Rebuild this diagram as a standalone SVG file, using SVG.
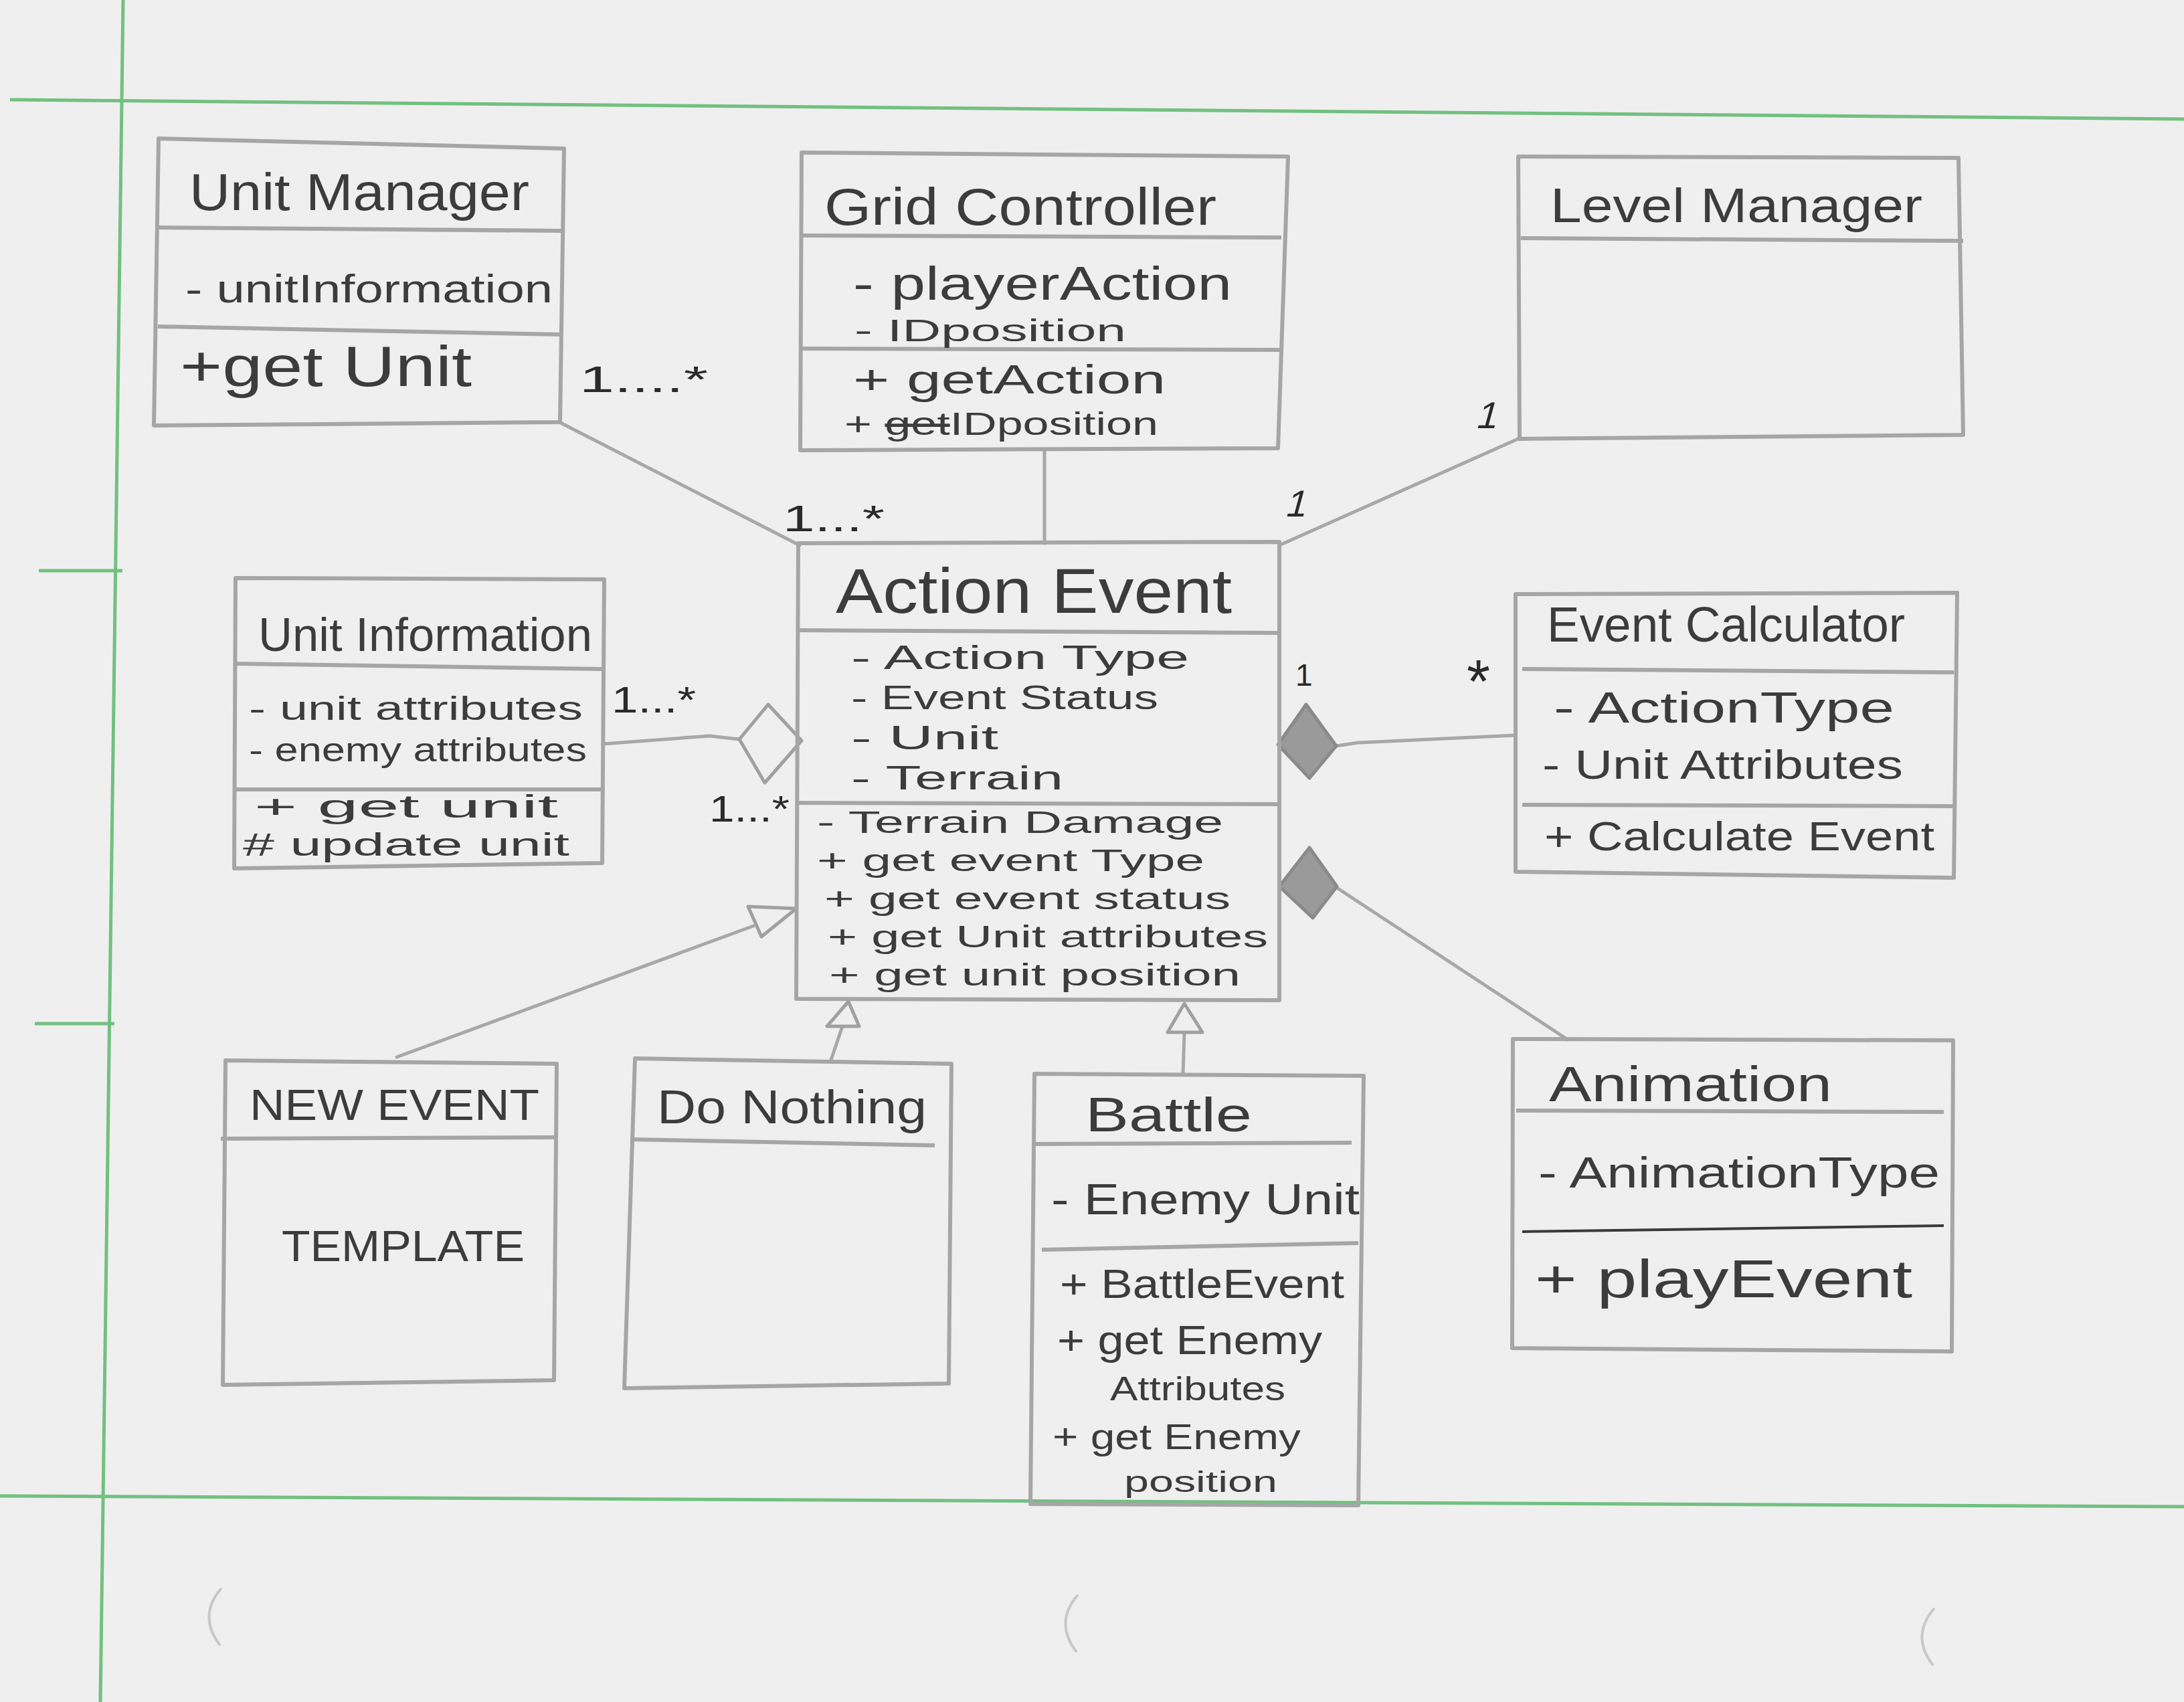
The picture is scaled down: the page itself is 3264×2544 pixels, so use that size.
<svg xmlns="http://www.w3.org/2000/svg" width="3264" height="2544" viewBox="0 0 3264 2544">
<defs>
<style>
.bg{fill:#efefef}
.grn{stroke:#72c080;stroke-width:5;fill:none}
.box{fill:none;stroke:#a6a6a6;stroke-width:6;stroke-linejoin:round}
.div{fill:none;stroke:#a6a6a6;stroke-width:6}
.dark{fill:none;stroke:#3a3a3a;stroke-width:4}
.con{fill:none;stroke:#a8a8a8;stroke-width:5;stroke-linecap:round;stroke-linejoin:round}
.hol{fill:#efefef;stroke:#a0a0a0;stroke-width:5;stroke-linejoin:round}
.fil{fill:#9a9a9a;stroke:#8a8a8a;stroke-width:5;stroke-linejoin:round}
.hole{fill:none;stroke:#c8c8c8;stroke-width:4;stroke-linecap:round}
text{font-family:"Liberation Sans","Open Sans",sans-serif;font-weight:normal;fill:#3c3c3c}
.lbl{fill:#2a2a2a}
</style>
</defs>
<rect class="bg" x="0" y="0" width="3264" height="2544"/>
<g id="page">
<path class="grn" d="M15 149 L3264 178"/>
<path class="grn" d="M184 0 L150 2544"/>
<path class="grn" d="M0 2236 L3264 2252"/>
<path class="grn" d="M58 853 L183 853"/>
<path class="grn" d="M52 1530 L171 1530"/>
<path class="hole" d="M330 2375 Q296 2415 328 2458"/>
<path class="hole" d="M1610 2385 Q1576 2425 1608 2468"/>
<path class="hole" d="M2890 2405 Q2856 2445 2888 2488"/>
</g>

<g id="connectors">
<path class="con" d="M838 632 L1195 815"/>
<path class="con" d="M1561 673 L1561 812"/>
<path class="con" d="M2271 655 L1912 815"/>
<path class="con" d="M901 1112 L1060 1100 L1105 1105"/>
<polygon class="hol" points="1105,1105 1148,1053 1198,1107 1143,1170"/>
<path class="con" d="M1997 1115 L2030 1110 L2265 1099"/>
<polygon class="fil" points="1952,1053 1997,1115 1957,1163 1910,1113"/>
<path class="con" d="M1998 1327 L2343 1554"/>
<polygon class="fil" points="1957,1267 1998,1325 1962,1372 1912,1325"/>
<path class="con" d="M593 1580 L1126 1384"/>
<polygon class="hol" points="1118,1355 1190,1358 1138,1400"/>
<path class="con" d="M1242 1584 L1259 1534"/>
<polygon class="hol" points="1268,1497 1236,1534 1284,1534"/>
<path class="con" d="M1768 1605 L1770 1543"/>
<polygon class="hol" points="1770,1500 1745,1543 1797,1543"/>
<text class="lbl" x="866" y="586" font-size="56" textLength="192" lengthAdjust="spacingAndGlyphs">1....*</text>
<text class="lbl" x="1170" y="794" font-size="56" textLength="152" lengthAdjust="spacingAndGlyphs">1...*</text>
<text class="lbl" x="1920" y="772" font-size="56" transform="skewX(-15) translate(206 0)">1</text>
<text class="lbl" x="2205" y="640" font-size="56" transform="skewX(-15) translate(171 0)">1</text>
<text class="lbl" x="914" y="1065" font-size="56" textLength="126" lengthAdjust="spacingAndGlyphs">1...*</text>
<text class="lbl" x="1060" y="1228" font-size="56" textLength="120" lengthAdjust="spacingAndGlyphs">1...*</text>
<text class="lbl" x="1936" y="1025" font-size="46">1</text>
<text class="lbl" x="2192" y="1050" font-size="90">*</text>
</g>

<g id="unit-manager">
<path class="box" d="M237 207 L843 222 L837 631 L230 636 Z"/>
<path class="div" d="M232 340 L840 345"/>
<path class="div" d="M236 488 L840 500"/>
<text x="283" y="314" font-size="78" textLength="508" lengthAdjust="spacingAndGlyphs">Unit Manager</text>
<text x="277" y="452" font-size="60" textLength="549" lengthAdjust="spacingAndGlyphs">- unitInformation</text>
<text x="269" y="577" font-size="85" textLength="436" lengthAdjust="spacingAndGlyphs">+get Unit</text>
</g>

<g id="grid-controller">
<path class="box" d="M1198 228 L1925 234 L1910 670 L1196 673 Z"/>
<path class="div" d="M1198 352 L1915 355"/>
<path class="div" d="M1198 521 L1915 523"/>
<text x="1232" y="336" font-size="78" textLength="586" lengthAdjust="spacingAndGlyphs">Grid Controller</text>
<text x="1275" y="448" font-size="70" textLength="566" lengthAdjust="spacingAndGlyphs">- playerAction</text>
<text x="1277" y="510" font-size="46" textLength="406" lengthAdjust="spacingAndGlyphs">- IDposition</text>
<text x="1275" y="588" font-size="62" textLength="467" lengthAdjust="spacingAndGlyphs">+ getAction</text>
<text x="1262" y="650" font-size="48" textLength="469" lengthAdjust="spacingAndGlyphs">+ <tspan text-decoration="line-through">get</tspan>IDposition</text>
</g>

<g id="level-manager">
<path class="box" d="M2269 234 L2927 236 L2934 650 L2271 656 Z"/>
<path class="div" d="M2273 356 L2934 360"/>
<text x="2317" y="332" font-size="72" textLength="556" lengthAdjust="spacingAndGlyphs">Level Manager</text>
</g>

<g id="unit-information">
<path class="box" d="M352 864 L903 866 L900 1290 L350 1298 Z"/>
<path class="div" d="M352 992 L900 1000"/>
<path class="div" d="M352 1180 L900 1180"/>
<text x="386" y="973" font-size="70" textLength="499" lengthAdjust="spacingAndGlyphs">Unit Information</text>
<text x="372" y="1076" font-size="50" textLength="499" lengthAdjust="spacingAndGlyphs">- unit attributes</text>
<text x="372" y="1138" font-size="50" textLength="505" lengthAdjust="spacingAndGlyphs">- enemy attributes</text>
<text x="380" y="1222" font-size="48" textLength="454" lengthAdjust="spacingAndGlyphs">+ get unit</text>
<text x="363" y="1279" font-size="48" textLength="488" lengthAdjust="spacingAndGlyphs"># update unit</text>
</g>

<g id="action-event">
<path class="box" d="M1193 812 L1912 810 L1912 1495 L1190 1493 Z"/>
<path class="div" d="M1193 942 L1912 946"/>
<path class="div" d="M1193 1200 L1912 1202"/>
<text x="1249" y="916" font-size="95" textLength="592" lengthAdjust="spacingAndGlyphs">Action Event</text>
<text x="1272" y="1000" font-size="50" textLength="505" lengthAdjust="spacingAndGlyphs">- Action Type</text>
<text x="1272" y="1060" font-size="50" textLength="459" lengthAdjust="spacingAndGlyphs">- Event Status</text>
<text x="1272" y="1120" font-size="50" textLength="220" lengthAdjust="spacingAndGlyphs">- Unit</text>
<text x="1272" y="1180" font-size="50" textLength="317" lengthAdjust="spacingAndGlyphs">- Terrain</text>
<text x="1221" y="1245" font-size="46" textLength="607" lengthAdjust="spacingAndGlyphs">- Terrain Damage</text>
<text x="1221" y="1302" font-size="46" textLength="579" lengthAdjust="spacingAndGlyphs">+ get event Type</text>
<text x="1232" y="1359" font-size="46" textLength="607" lengthAdjust="spacingAndGlyphs">+ get event status</text>
<text x="1237" y="1416" font-size="46" textLength="658" lengthAdjust="spacingAndGlyphs">+ get Unit attributes</text>
<text x="1239" y="1473" font-size="46" textLength="615" lengthAdjust="spacingAndGlyphs">+ get unit position</text>
</g>

<g id="event-calculator">
<path class="box" d="M2265 888 L2925 886 L2920 1312 L2265 1303 Z"/>
<path class="div" d="M2275 1000 L2920 1005"/>
<path class="div" d="M2275 1203 L2920 1205"/>
<text x="2312" y="959" font-size="75" textLength="535" lengthAdjust="spacingAndGlyphs">Event Calculator</text>
<text x="2322" y="1080" font-size="65" textLength="509" lengthAdjust="spacingAndGlyphs">- ActionType</text>
<text x="2305" y="1164" font-size="62" textLength="539" lengthAdjust="spacingAndGlyphs">- Unit Attributes</text>
<text x="2308" y="1271" font-size="62" textLength="583" lengthAdjust="spacingAndGlyphs">+ Calculate Event</text>
</g>

<g id="animation">
<path class="box" d="M2261 1553 L2919 1555 L2917 2020 L2260 2015 Z"/>
<path class="div" d="M2266 1660 L2905 1662"/>
<path class="dark" d="M2275 1841 L2905 1832"/>
<text x="2315" y="1646" font-size="75" textLength="423" lengthAdjust="spacingAndGlyphs">Animation</text>
<text x="2299" y="1775" font-size="65" textLength="600" lengthAdjust="spacingAndGlyphs">- AnimationType</text>
<text x="2294" y="1939" font-size="80" textLength="564" lengthAdjust="spacingAndGlyphs">+ playEvent</text>
</g>

<g id="new-event">
<path class="box" d="M337 1585 L832 1590 L828 2063 L333 2070 Z"/>
<path class="div" d="M330 1702 L832 1700"/>
<text x="373" y="1674" font-size="65" textLength="433" lengthAdjust="spacingAndGlyphs">NEW EVENT</text>
<text x="421" y="1885" font-size="65" textLength="363" lengthAdjust="spacingAndGlyphs">TEMPLATE</text>
</g>

<g id="do-nothing">
<path class="box" d="M949 1582 L1422 1590 L1418 2068 L933 2075 Z"/>
<path class="div" d="M942 1703 L1397 1712"/>
<text x="982" y="1679" font-size="70" textLength="403" lengthAdjust="spacingAndGlyphs">Do Nothing</text>
</g>

<g id="battle">
<path class="box" d="M1546 1605 L2038 1608 L2030 2250 L1540 2248 Z"/>
<path class="div" d="M1542 1710 L2020 1708"/>
<path class="div" d="M1557 1868 L2030 1858"/>
<text x="1622" y="1691" font-size="72" textLength="249" lengthAdjust="spacingAndGlyphs">Battle</text>
<text x="1571" y="1815" font-size="65" textLength="461" lengthAdjust="spacingAndGlyphs">- Enemy Unit</text>
<text x="1584" y="1940" font-size="62" textLength="425" lengthAdjust="spacingAndGlyphs">+ BattleEvent</text>
<text x="1580" y="2024" font-size="62" textLength="396" lengthAdjust="spacingAndGlyphs">+ get Enemy</text>
<text x="1659" y="2093" font-size="50" textLength="262" lengthAdjust="spacingAndGlyphs">Attributes</text>
<text x="1573" y="2166" font-size="54" textLength="371" lengthAdjust="spacingAndGlyphs">+ get Enemy</text>
<text x="1680" y="2230" font-size="44" textLength="229" lengthAdjust="spacingAndGlyphs">position</text>
</g>
</svg>
